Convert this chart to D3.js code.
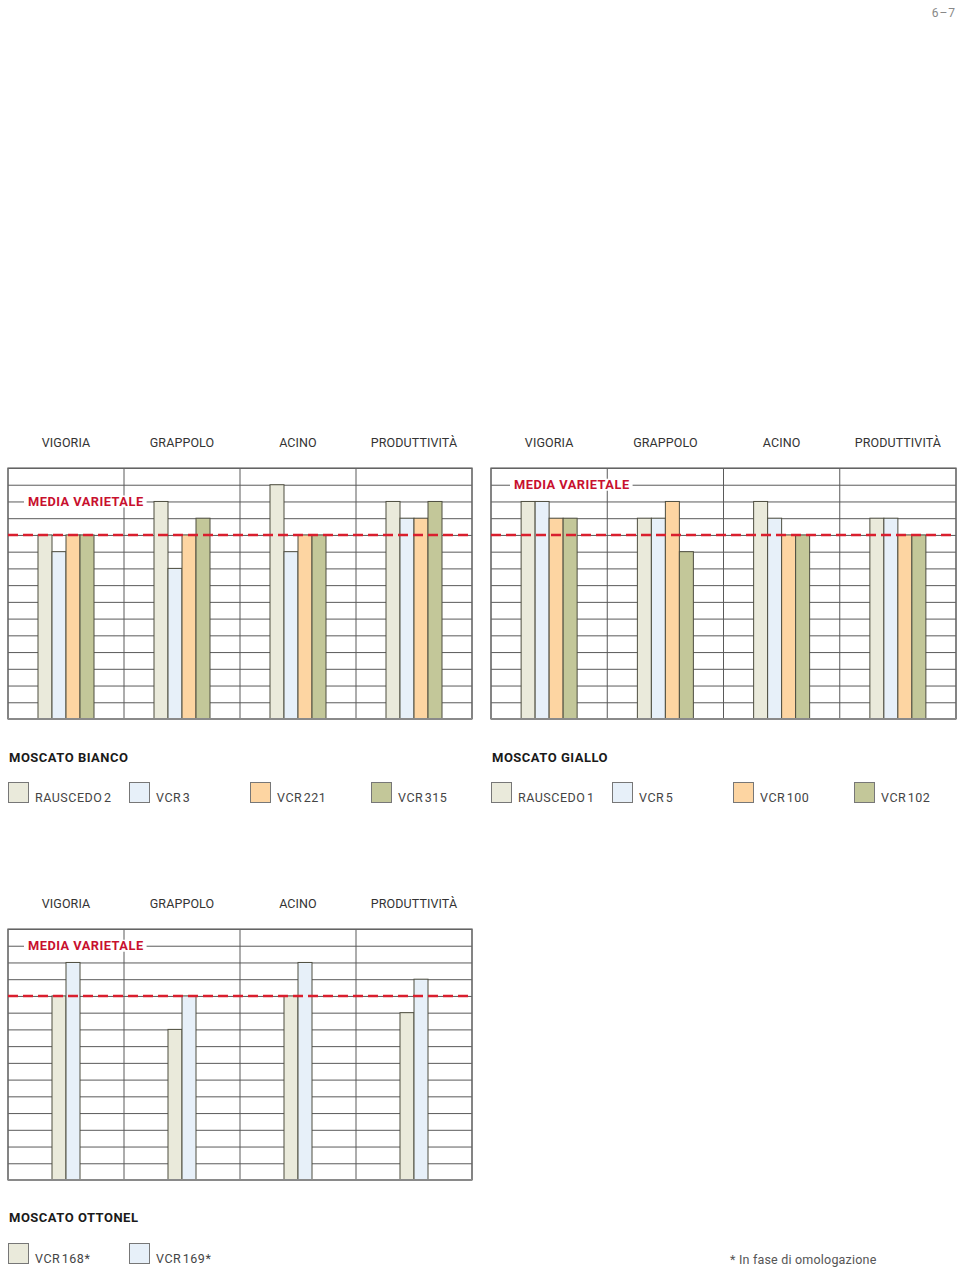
<!DOCTYPE html>
<html><head><meta charset="utf-8">
<script src="https://cdn.jsdelivr.net/npm/d3@7"></script>
<style>
html,body{margin:0;padding:0;background:#fff;}
svg{display:block;font-family:Roboto,"DejaVu Sans",sans-serif;}
</style></head>
<body>
<svg id="c" width="960" height="1269"></svg>
<script>
// ---------- DATA ----------
const categories = ["VIGORIA", "GRAPPOLO", "ACINO", "PRODUTTIVITÀ"];
const gridRows = 15;          // number of grid rows (value scale 0..15)
const mediaValue = 11;        // "media varietale" reference level

const biancoTitle = "MOSCATO BIANCO";
const biancoSeries = ["RAUSCEDO 2", "VCR 3", "VCR 221", "VCR 315"];
// values per series, in category order
const biancoRausc2 = [11, 13, 14, 13];
const biancoVcr3   = [10, 9, 10, 12];
const biancoVcr221 = [11, 11, 11, 12];
const biancoVcr315 = [11, 12, 11, 13];

const gialloTitle = "MOSCATO GIALLO";
const gialloSeries = ["RAUSCEDO 1", "VCR 5", "VCR 100", "VCR 102"];
const gialloRausc1 = [13, 12, 13, 12];
const gialloVcr5   = [13, 12, 12, 12];
const gialloVcr100 = [12, 13, 11, 11];
const gialloVcr102 = [12, 10, 11, 11];

const ottonelTitle = "MOSCATO OTTONEL";
const ottonelSeries = ["VCR 168*", "VCR 169*"];
const ottonelVcr168 = [11, 9, 11, 10];
const ottonelVcr169 = [13, 11, 13, 12];

const seriesColors4 = ["#eaeadb", "#e7f0f9", "#fdd5a2", "#c3c799"];
const seriesColors2 = ["#eaeadb", "#e7f0f9"];

const mediaLabel = "MEDIA VARIETALE";
const footnote = "* In fase di omologazione";
const pageNumber = "6 – 7";

// ---------- DRAW ----------
const svg = d3.select("#c");

svg.append("text").attr("x", 955).attr("y", 17).attr("text-anchor", "end")
  .attr("font-size", 12).attr("fill", "#888").attr("word-spacing", -2).text(pageNumber);

function drawChart(cfg) {
  const {left, right, top, bottom, series, values, colors, labelRow, labelDx, title, headerY, titleY, legendY} = cfg;
  const g = svg.append("g");
  const x = d3.scaleBand().domain(categories).range([left, right]).padding(0);
  const y = d3.scaleLinear().domain([0, gridRows]).range([bottom, top]);
  const barW = 14;
  const inner = d3.scaleBand().domain(series).range([0, barW * series.length]).padding(0);

  // headers
  g.selectAll("text.hdr").data(categories).join("text")
    .attr("class", "hdr")
    .attr("x", d => x(d) + x.bandwidth() / 2)
    .attr("y", headerY)
    .attr("text-anchor", "middle")
    .attr("font-size", 12.5).attr("fill", "#333").attr("letter-spacing", 0.1)
    .text(d => d);

  // horizontal grid lines via axis
  const axis = d3.axisLeft(y).tickValues(d3.range(0, gridRows + 1))
    .tickSize(-(right - left)).tickFormat("");
  const ag = g.append("g").attr("transform", `translate(${left},0)`).call(axis);
  ag.select(".domain").remove();
  ag.selectAll(".tick line").attr("stroke", "#5a5a5a").attr("stroke-width", 1);

  // vertical group separators
  const xs = categories.map(c => x(c)).concat([right]);
  g.selectAll("line.v").data(xs).join("line")
    .attr("class", "v")
    .attr("x1", d => d).attr("x2", d => d)
    .attr("y1", top).attr("y2", bottom)
    .attr("stroke", "#5a5a5a").attr("stroke-width", 1);

  // bars
  const data = [];
  series.forEach((s, si) => {
    values[si].forEach((v, ci) => data.push({s, si, c: categories[ci], v}));
  });
  g.selectAll("rect.bar").data(data).join("rect")
    .attr("class", "bar")
    .attr("x", d => x(d.c) + (x.bandwidth() - inner.range()[1]) / 2 + inner(d.s))
    .attr("width", inner.bandwidth())
    .attr("y", d => y(d.v))
    .attr("height", d => y(0) - y(d.v))
    .attr("fill", d => colors[d.si])
    .attr("stroke", "#4e4e40").attr("stroke-width", 1);

  // border (outer)
  g.append("rect").attr("x", left).attr("y", top).attr("width", right - left).attr("height", bottom - top)
    .attr("fill", "none").attr("stroke", "#6a6a6a").attr("stroke-width", 1.2);
  g.append("line").attr("x1", left).attr("x2", right).attr("y1", bottom).attr("y2", bottom)
    .attr("stroke", "#8a8a8a").attr("stroke-width", 2);

  // media varietale label
  const lbl = g.append("text").attr("x", left + labelDx).attr("y", y(labelRow) + 4.5)
    .attr("font-size", 12.8).attr("font-weight", "bold").attr("fill", "#c8102e")
    .attr("letter-spacing", 0.5).text(mediaLabel);
  const bb = lbl.node().getBBox();
  g.insert("rect", () => lbl.node())
    .attr("x", left + labelDx - 4).attr("y", y(labelRow) - 6)
    .attr("width", bb.x + bb.width - (left + labelDx - 4) + 3).attr("height", 12)
    .attr("fill", "#fff");

  // red dashed media line
  g.append("line").attr("x1", left).attr("x2", right)
    .attr("y1", y(mediaValue)).attr("y2", y(mediaValue))
    .attr("stroke", "#d91f2e").attr("stroke-width", 2.5).attr("stroke-dasharray", "10,5");

  // title
  svg.append("text").attr("x", left + 1).attr("y", titleY)
    .attr("font-size", 13).attr("font-weight", "bold").attr("fill", "#1a1a1a")
    .attr("letter-spacing", 0.5).text(title);

  // legend
  const lg = svg.append("g");
  series.forEach((s, i) => {
    const lx = left + i * 121;
    lg.append("rect").attr("x", lx + 0.5).attr("y", legendY + 0.5).attr("width", 20).attr("height", 20)
      .attr("fill", colors[i]).attr("stroke", "#777").attr("stroke-width", 1);
    lg.append("text").attr("x", lx + 27).attr("y", legendY + 20)
      .attr("font-size", 12.5).attr("fill", "#444").attr("letter-spacing", 0.5)
      .attr("word-spacing", -2).text(s);
  });
}

drawChart({left: 8, right: 472, top: 468, bottom: 719,
  series: biancoSeries, values: [biancoRausc2, biancoVcr3, biancoVcr221, biancoVcr315],
  colors: seriesColors4, labelRow: 13, labelDx: 20, title: biancoTitle,
  headerY: 447, titleY: 762, legendY: 782});

drawChart({left: 491, right: 956, top: 468, bottom: 719,
  series: gialloSeries, values: [gialloRausc1, gialloVcr5, gialloVcr100, gialloVcr102],
  colors: seriesColors4, labelRow: 14, labelDx: 23, title: gialloTitle,
  headerY: 447, titleY: 762, legendY: 782});

drawChart({left: 8, right: 472, top: 929, bottom: 1180,
  series: ottonelSeries, values: [ottonelVcr168, ottonelVcr169],
  colors: seriesColors2, labelRow: 14, labelDx: 20, title: ottonelTitle,
  headerY: 908, titleY: 1222, legendY: 1243});

svg.append("text").attr("x", 730).attr("y", 1264)
  .attr("font-size", 12.5).attr("fill", "#555").attr("letter-spacing", 0.2).text(footnote);
</script>
</body></html>
